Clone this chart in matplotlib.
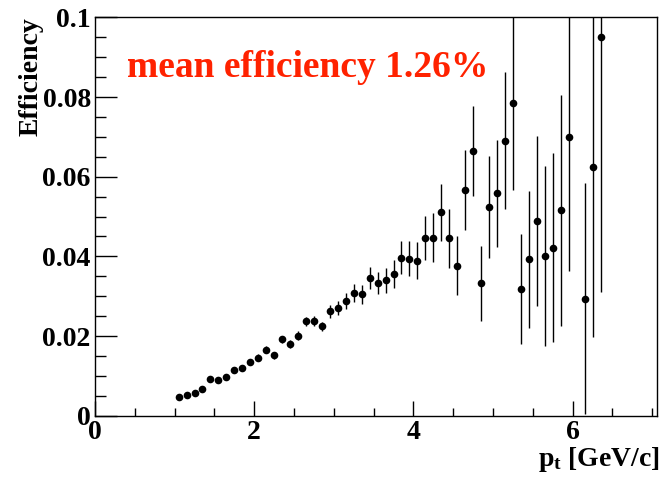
import numpy as np
import matplotlib
matplotlib.use("Agg")
from matplotlib import pyplot as plt
from matplotlib.ticker import MultipleLocator

# efficiency vs pt, bins of 0.1 GeV/c (6.05 bin empty)
pt = [1.05, 1.15, 1.25, 1.35, 1.45, 1.55, 1.65, 1.75, 1.85, 1.95,
      2.05, 2.15, 2.25, 2.35, 2.45, 2.55, 2.65, 2.75, 2.85, 2.95,
      3.05, 3.15, 3.25, 3.35, 3.45, 3.55, 3.65, 3.75, 3.85, 3.95,
      4.05, 4.15, 4.25, 4.35, 4.45, 4.55, 4.65, 4.75, 4.85, 4.95,
      5.05, 5.15, 5.25, 5.35, 5.45, 5.55, 5.65, 5.75, 5.85, 5.95,
      6.15, 6.25, 6.35]
eff = [0.0046, 0.0053, 0.0057, 0.0067, 0.0091, 0.0090, 0.0096, 0.0115, 0.0120, 0.0136,
       0.0146, 0.0166, 0.0152, 0.0192, 0.0180, 0.0201, 0.0237, 0.0238, 0.0224, 0.0262,
       0.0271, 0.0289, 0.0308, 0.0305, 0.0346, 0.0333, 0.0340, 0.0356, 0.0397, 0.0394,
       0.0389, 0.0447, 0.0447, 0.0511, 0.0445, 0.0377, 0.0567, 0.0664, 0.0333, 0.0525,
       0.0558, 0.0691, 0.0784, 0.0318, 0.0393, 0.0489, 0.0400, 0.0422, 0.0516, 0.0700,
       0.0294, 0.0624, 0.0951]
err = [0.0003, 0.0003, 0.0004, 0.0004, 0.0005, 0.0005, 0.0006, 0.0006, 0.0007, 0.0007,
       0.0008, 0.0008, 0.0009, 0.0009, 0.0010, 0.0011, 0.0012, 0.0012, 0.0011, 0.0016,
       0.0018, 0.0020, 0.0023, 0.0024, 0.0028, 0.0028, 0.0032, 0.0035, 0.0042, 0.0044,
       0.0047, 0.0055, 0.0062, 0.0072, 0.0074, 0.0073, 0.0100, 0.0113, 0.0094, 0.0128,
       0.0135, 0.0172, 0.0218, 0.0139, 0.0172, 0.0213, 0.0226, 0.0238, 0.0290, 0.0337,
       0.0290, 0.0427, 0.0640]

plt.rcParams['font.family'] = ['Liberation Serif', 'DejaVu Serif']
plt.rcParams['font.weight'] = 'bold'
plt.rcParams['mathtext.fontset'] = 'custom'
plt.rcParams['mathtext.rm'] = 'Liberation Serif:bold'
plt.rcParams['mathtext.it'] = 'Liberation Serif:bold'
plt.rcParams['mathtext.bf'] = 'Liberation Serif:bold'

fig = plt.figure(figsize=(6.63, 4.79), dpi=100)
ax = fig.add_axes([0.1433, 0.1322, 0.8477, 0.8313])

ax.errorbar(pt, eff, yerr=err, fmt='o', color='black', ms=5.5, elinewidth=1.0,
            capsize=0, mew=0)

ax.set_xlim(0, 7.06)
ax.set_ylim(0, 0.1)

ax.xaxis.set_major_locator(MultipleLocator(2))
ax.xaxis.set_minor_locator(MultipleLocator(0.5))
ax.yaxis.set_major_locator(MultipleLocator(0.02))
ax.yaxis.set_minor_locator(MultipleLocator(0.005))

ax.tick_params(axis='both', which='both', direction='in', top=False, right=False,
               labelsize=20, width=1.0)
ax.tick_params(axis='x', which='major', length=11, pad=3)
ax.tick_params(axis='x', which='minor', length=5.5)
ax.tick_params(axis='y', which='major', length=16, pad=3)
ax.tick_params(axis='y', which='minor', length=8)

ax.xaxis.set_major_formatter(plt.FuncFormatter(lambda v, p: f"{v:g}"))
ax.yaxis.set_major_formatter(plt.FuncFormatter(lambda v, p: f"{v:g}"))

for sp in ax.spines.values():
    sp.set_linewidth(1.0)

ax.set_ylabel("Efficiency", fontsize=20, fontweight='bold', va='center', ha='right')
ax.yaxis.set_label_coords(-0.114, 1.0)

ax.set_xlabel(r"p$_{\mathrm{t}}$ [GeV/c]", fontsize=20, fontweight='bold',
              ha='right', va='baseline')
ax.xaxis.set_label_coords(1.005, -0.126)

fig.text(127 / 663, 1 - 77 / 479, "mean efficiency 1.26%", color='#ff2200',
         fontsize=27, fontweight='bold', ha='left', va='baseline')

fig.savefig("out.png", dpi=100)
